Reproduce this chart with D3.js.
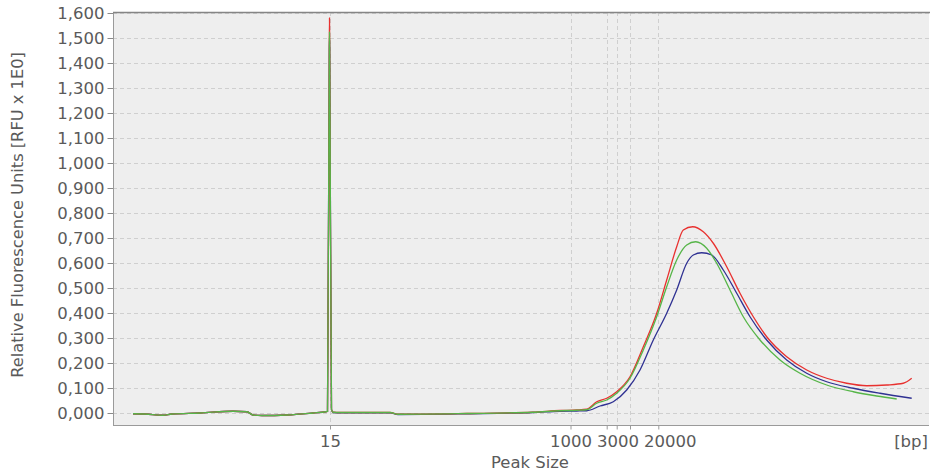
<!DOCTYPE html>
<html><head><meta charset="utf-8">
<script src="https://cdn.jsdelivr.net/npm/d3@7"></script>
<style>body{margin:0;background:#fff}svg{display:block}text{font-family:"DejaVu Sans",sans-serif;fill:#5a5a5a}</style>
</head><body><svg id="c" width="930" height="472"></svg>
<script>
// Y tick values (RFU)
const yTicks = [0,0.1,0.2,0.3,0.4,0.5,0.6,0.7,0.8,0.9,1.0,1.1,1.2,1.3,1.4,1.5,1.6];
// Size-standard marker positions (scan position) and their labels
const ladderPos = [217, 457.5, 493.7, 503.7, 517, 545.3];
const ladderLbl = ["15", "1000", "", "3000", "", "20000"];
const xUnitLabel = "[bp]";
// Shared baseline before the smear (scan position, RFU)
const basePos = [20, 32, 50, 59, 87, 120, 134, 140, 149, 174, 200, 213];
const baseVal = [-0.003, -0.004, -0.009, -0.004, 0.000, 0.007, 0.005, -0.008, -0.010, -0.008, 0.000, 0.005];
// Marker spike and post-spike baseline
const spikePos = [214.5, 216.3, 216.5, 216.7, 218.5, 220, 227, 277, 285, 354, 420, 447];
const spikeRed = [0.006, 1.450, 1.580, 1.450, 0.014, 0.003, 0.002, 0.002, -0.005, -0.002, 0.003, 0.010];
const spikeGreen = [0.006, 1.450, 1.525, 1.450, 0.014, 0.003, 0.002, 0.002, -0.005, -0.002, 0.003, 0.009];
const spikeBlue = [0.006, 1.450, 1.500, 1.450, 0.014, 0.002, 0.001, 0.001, -0.006, -0.003, 0.002, 0.007];
// Smear region
const redPos = [463.7, 473.7, 483.7, 493.7, 503.7, 517, 530.3, 543.7, 553.7, 563.7, 570.3, 579.7, 590.3, 600.3, 613.7, 627, 640.3, 653.7, 673.7, 693.7, 713.7, 733.7, 753.7, 773.7, 790.3, 798.7];
const redVal = [0.012, 0.015, 0.045, 0.059, 0.085, 0.145, 0.265, 0.399, 0.532, 0.665, 0.732, 0.745, 0.725, 0.679, 0.585, 0.479, 0.385, 0.305, 0.225, 0.172, 0.139, 0.119, 0.109, 0.112, 0.119, 0.139];
const greenPos = [463.7, 473.7, 483.7, 493.7, 503.7, 517, 530.3, 543.7, 553.7, 563.7, 573.7, 582.7, 593.7, 603.7, 617, 630.3, 647, 667, 687, 713.7, 740.3, 763.7, 783.7];
const greenVal = [0.011, 0.013, 0.039, 0.052, 0.079, 0.139, 0.252, 0.385, 0.505, 0.612, 0.672, 0.685, 0.659, 0.599, 0.492, 0.385, 0.292, 0.212, 0.159, 0.112, 0.085, 0.068, 0.056];
const bluePos = [463.7, 473.7, 487, 500.3, 513.7, 527, 540.3, 553.7, 563.7, 573.7, 580.3, 588.7, 598.7, 610.3, 623.7, 637, 653.7, 673.7, 693.7, 713.7, 740.3, 767, 798.7];
const blueVal = [0.008, 0.009, 0.028, 0.045, 0.092, 0.172, 0.292, 0.399, 0.492, 0.599, 0.632, 0.641, 0.632, 0.572, 0.479, 0.385, 0.292, 0.212, 0.159, 0.125, 0.099, 0.079, 0.059];

const m = {l: 113, r: 929, t: 12, b: 425};
const svg = d3.select("#c");
const x = d3.scaleLinear().domain([0, 816]).range([m.l, m.r]);
const y = d3.scaleLinear().domain([0, 1.6]).range([413, 13]);
const loc = d3.formatLocale({decimal: ",", thousands: ".", grouping: [3], currency: ["", ""]});
const fmt = loc.format(".3f");

svg.append("rect").attr("x", m.l).attr("y", m.t).attr("width", m.r - m.l).attr("height", m.b - m.t).attr("fill", "#eeeeee");

// grid
const g = svg.append("g").attr("stroke", "#cfcfcf").attr("stroke-dasharray", "4,3").attr("stroke-width", 1);
yTicks.forEach(v => g.append("line").attr("x1", m.l).attr("x2", m.r).attr("y1", Math.round(y(v)) + 0.5).attr("y2", Math.round(y(v)) + 0.5));
ladderPos.forEach(p => g.append("line").attr("y1", m.t).attr("y2", m.b).attr("x1", Math.round(x(p)) + 0.5).attr("x2", Math.round(x(p)) + 0.5));

// y axis
const ya = svg.append("g").attr("transform", `translate(${m.l + 0.5},0)`)
  .call(d3.axisLeft(y).tickValues(yTicks).tickFormat(fmt).tickSize(6).tickPadding(3));
ya.select(".domain").remove();
ya.selectAll(".tick line").attr("stroke", "#8a8a8a");
ya.selectAll(".tick text").attr("font-size", 16.5).attr("fill", "#5a5a5a").attr("font-family", "DejaVu Sans");

// x axis
const xa = svg.append("g").attr("transform", `translate(0,${m.b + 0.5})`)
  .call(d3.axisBottom(x).tickValues(ladderPos).tickFormat((d, i) => ladderLbl[i]).tickSize(4).tickPadding(6));
xa.select(".domain").remove();
xa.selectAll(".tick line").attr("stroke", "#9a9a9a");
xa.selectAll(".tick text").attr("font-size", 16.5).attr("fill", "#5a5a5a").attr("font-family", "DejaVu Sans");
// avoid overlapping labels: shift right
let prevRight = -1e9;
xa.selectAll(".tick").each(function(d) {
  const t = d3.select(this).select("text");
  if (!t.text()) return;
  const w = t.node().getComputedTextLength();
  const cx = x(d);
  let left = cx - w / 2;
  if (left < prevRight + 5) { const dx = prevRight + 5 - left; t.attr("dx", dx); left += dx; }
  prevRight = left + w;
});
svg.append("text").attr("x", m.r - 1).attr("y", m.b + 22).attr("text-anchor", "end").attr("font-size", 16.5).text(xUnitLabel);

// frame lines
svg.append("line").attr("x1", m.l + 0.5).attr("x2", m.l + 0.5).attr("y1", m.t).attr("y2", m.b + 1).attr("stroke", "#9a9a9a");
svg.append("line").attr("x1", m.l).attr("x2", m.r).attr("y1", m.b + 0.5).attr("y2", m.b + 0.5).attr("stroke", "#9a9a9a");
svg.append("line").attr("x1", m.l).attr("x2", m.r + 1).attr("y1", m.t + 0.5).attr("y2", m.t + 0.5).attr("stroke", "#858585").attr("stroke-width", 1.5);

// traces
const line = d3.line().x(d => x(d[0])).y(d => y(d[1])).curve(d3.curveMonotoneX);
function trace(sp, pp, pv) {
  const pts = [];
  basePos.forEach((p, i) => pts.push([p, baseVal[i]]));
  spikePos.forEach((p, i) => pts.push([p, sp[i]]));
  pp.forEach((p, i) => pts.push([p, pv[i]]));
  return pts;
}
const series = [
  {c: "#2f3192", d: trace(spikeBlue, bluePos, blueVal)},
  {c: "#e8312f", d: trace(spikeRed, redPos, redVal)},
  {c: "#56b548", d: trace(spikeGreen, greenPos, greenVal)}
];
svg.append("g").selectAll("path").data(series).join("path")
  .attr("d", s => line(s.d)).attr("fill", "none").attr("stroke", s => s.c).attr("stroke-width", 1.3);

// titles
function fit(t, len) { const w = t.node().getComputedTextLength(); t.attr("font-size", 16 * len / w); }
const yt = svg.append("text").attr("transform", "translate(23,215) rotate(-90)").attr("text-anchor", "middle").attr("font-size", 16)
  .text("Relative Fluorescence Units [RFU x 1E0]");
fit(yt, 326);
const xt = svg.append("text").attr("x", 530).attr("y", 468).attr("text-anchor", "middle").attr("font-size", 16).text("Peak Size");
fit(xt, 78);
</script></body></html>
